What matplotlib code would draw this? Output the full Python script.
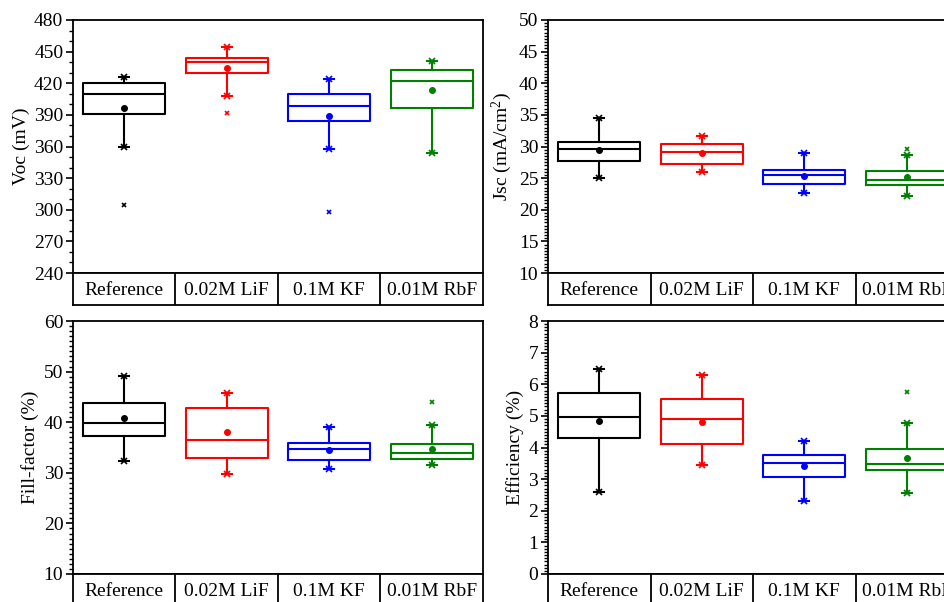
import matplotlib
matplotlib.use("Agg")
import matplotlib.pyplot as plt
from matplotlib.ticker import MultipleLocator

plt.rcParams['font.family'] = ['Liberation Serif', 'DejaVu Serif']
plt.rcParams['mathtext.fontset'] = 'custom'
plt.rcParams['mathtext.rm'] = 'Liberation Serif'
plt.rcParams['mathtext.it'] = 'Liberation Serif:italic'

categories = ["Reference", "0.02M LiF", "0.1M KF", "0.01M RbF"]
colors = ["#000000", "#FF0000", "#0000FF", "#008000"]

# Voc (mV)
voc_whislo = [359.7, 408.1, 357.8, 354.3]
voc_q1 = [390.7, 429.3, 384.4, 396.7]
voc_med = [410.0, 440.4, 398.3, 422.1]
voc_q3 = [420.5, 443.9, 409.4, 432.2]
voc_whishi = [425.9, 454.0, 423.6, 441.1]
voc_mean = [396.7, 434.4, 389.1, 413.2]
voc_fliers = [[304.3], [392.0], [298.2], []]

# Jsc (mA/cm2)
jsc_whislo = [24.99, 25.94, 22.72, 22.19]
jsc_q1 = [27.78, 27.2, 24.14, 23.98]
jsc_med = [29.63, 29.1, 25.46, 24.78]
jsc_q3 = [30.69, 30.37, 26.25, 26.2]
jsc_whishi = [34.43, 31.69, 29.0, 28.68]
jsc_mean = [29.47, 29.0, 25.3, 25.15]
jsc_fliers = [[], [], [], [29.58]]

# Fill-factor (%)
ff_whislo = [32.27, 29.76, 30.75, 31.48]
ff_q1 = [37.27, 32.92, 32.46, 32.8]
ff_med = [39.84, 36.55, 34.7, 33.98]
ff_q3 = [43.86, 42.87, 35.96, 35.7]
ff_whishi = [49.13, 45.84, 39.12, 39.51]
ff_mean = [40.76, 38.0, 34.5, 34.77]
ff_fliers = [[], [], [], [43.93]]

# Efficiency (%)
eff_whislo = [2.59, 3.46, 2.30, 2.55]
eff_q1 = [4.30, 4.10, 3.07, 3.28]
eff_med = [4.96, 4.90, 3.52, 3.48]
eff_q3 = [5.72, 5.54, 3.75, 3.96]
eff_whishi = [6.47, 6.30, 4.21, 4.79]
eff_mean = [4.84, 4.82, 3.43, 3.66]
eff_fliers = [[], [], [], [5.74]]

panels = [
    dict(label="Voc (mV)", ylim=(240, 480), major=30, minor=10,
         data=(voc_whislo, voc_q1, voc_med, voc_q3, voc_whishi, voc_mean, voc_fliers)),
    dict(label="Jsc (mA/cm$^{2}$)", ylim=(10, 50), major=5, minor=0.5,
         data=(jsc_whislo, jsc_q1, jsc_med, jsc_q3, jsc_whishi, jsc_mean, jsc_fliers)),
    dict(label="Fill-factor (%)", ylim=(10, 60), major=10, minor=1,
         data=(ff_whislo, ff_q1, ff_med, ff_q3, ff_whishi, ff_mean, ff_fliers)),
    dict(label="Efficiency (%)", ylim=(0, 8), major=1, minor=0.1,
         data=(eff_whislo, eff_q1, eff_med, eff_q3, eff_whishi, eff_mean, eff_fliers)),
]

W, H = 945, 602
fig = plt.figure(figsize=(W / 100, H / 100), dpi=100)

lefts = [73, 548, 73, 548]
tops = [20, 20, 321, 321]
axw, axh, rowh = 410, 253, 32
FS = 14

for k, p in enumerate(panels):
    l, t = lefts[k], tops[k]
    ax = fig.add_axes([l / W, (H - t - axh) / H, axw / W, axh / H])
    axr = fig.add_axes([l / W, (H - t - axh - rowh) / H, axw / W, rowh / H])
    whislo, q1, med, q3, whishi, mean, fliers = p["data"]
    for i in range(len(categories)):
        c = colors[i]
        st = [dict(med=med[i], q1=q1[i], q3=q3[i], whislo=whislo[i],
                   whishi=whishi[i], mean=mean[i], fliers=fliers[i], label=categories[i])]
        lp = dict(color=c, linewidth=1.5)
        ax.bxp(st, positions=[i + 1], widths=0.8, capwidths=0.1, showmeans=True,
               boxprops=lp, whiskerprops=lp, capprops=lp, medianprops=lp,
               meanprops=dict(marker='o', markerfacecolor=c, markeredgecolor=c,
                              markersize=4, linestyle='none'),
               flierprops=dict(marker='x', markeredgecolor=c, markersize=3.5,
                               markeredgewidth=1.2, linestyle='none'),
               manage_ticks=False)
        ax.plot([i + 1, i + 1], [whislo[i], whishi[i]], linestyle='none', marker='x',
                color=c, markersize=4, markeredgewidth=1.2)
    ax.set_xlim(0.5, 4.5)
    ax.set_ylim(*p["ylim"])
    ax.yaxis.set_major_locator(MultipleLocator(p["major"]))
    ax.yaxis.set_minor_locator(MultipleLocator(p["minor"]))
    ax.tick_params(axis='y', which='major', direction='out', length=5, width=1.2,
                   labelsize=FS, pad=2)
    ax.tick_params(axis='y', which='minor', direction='out', length=3, width=1)
    ax.set_xticks([])
    ax.set_ylabel(p["label"], fontsize=FS, labelpad=3)
    for s in ax.spines.values():
        s.set_linewidth(1.3)

    axr.set_xlim(0.5, 4.5)
    axr.set_ylim(0, 1)
    axr.set_xticks([])
    axr.set_yticks([])
    for s in axr.spines.values():
        s.set_linewidth(1.3)
    for j in range(1, len(categories)):
        axr.axvline(j + 0.5, color='black', linewidth=1.3)
    for j, cat in enumerate(categories):
        axr.text(j + 1, 0.45, cat, ha='center', va='center', fontsize=FS)

fig.savefig("out.png", dpi=100)
